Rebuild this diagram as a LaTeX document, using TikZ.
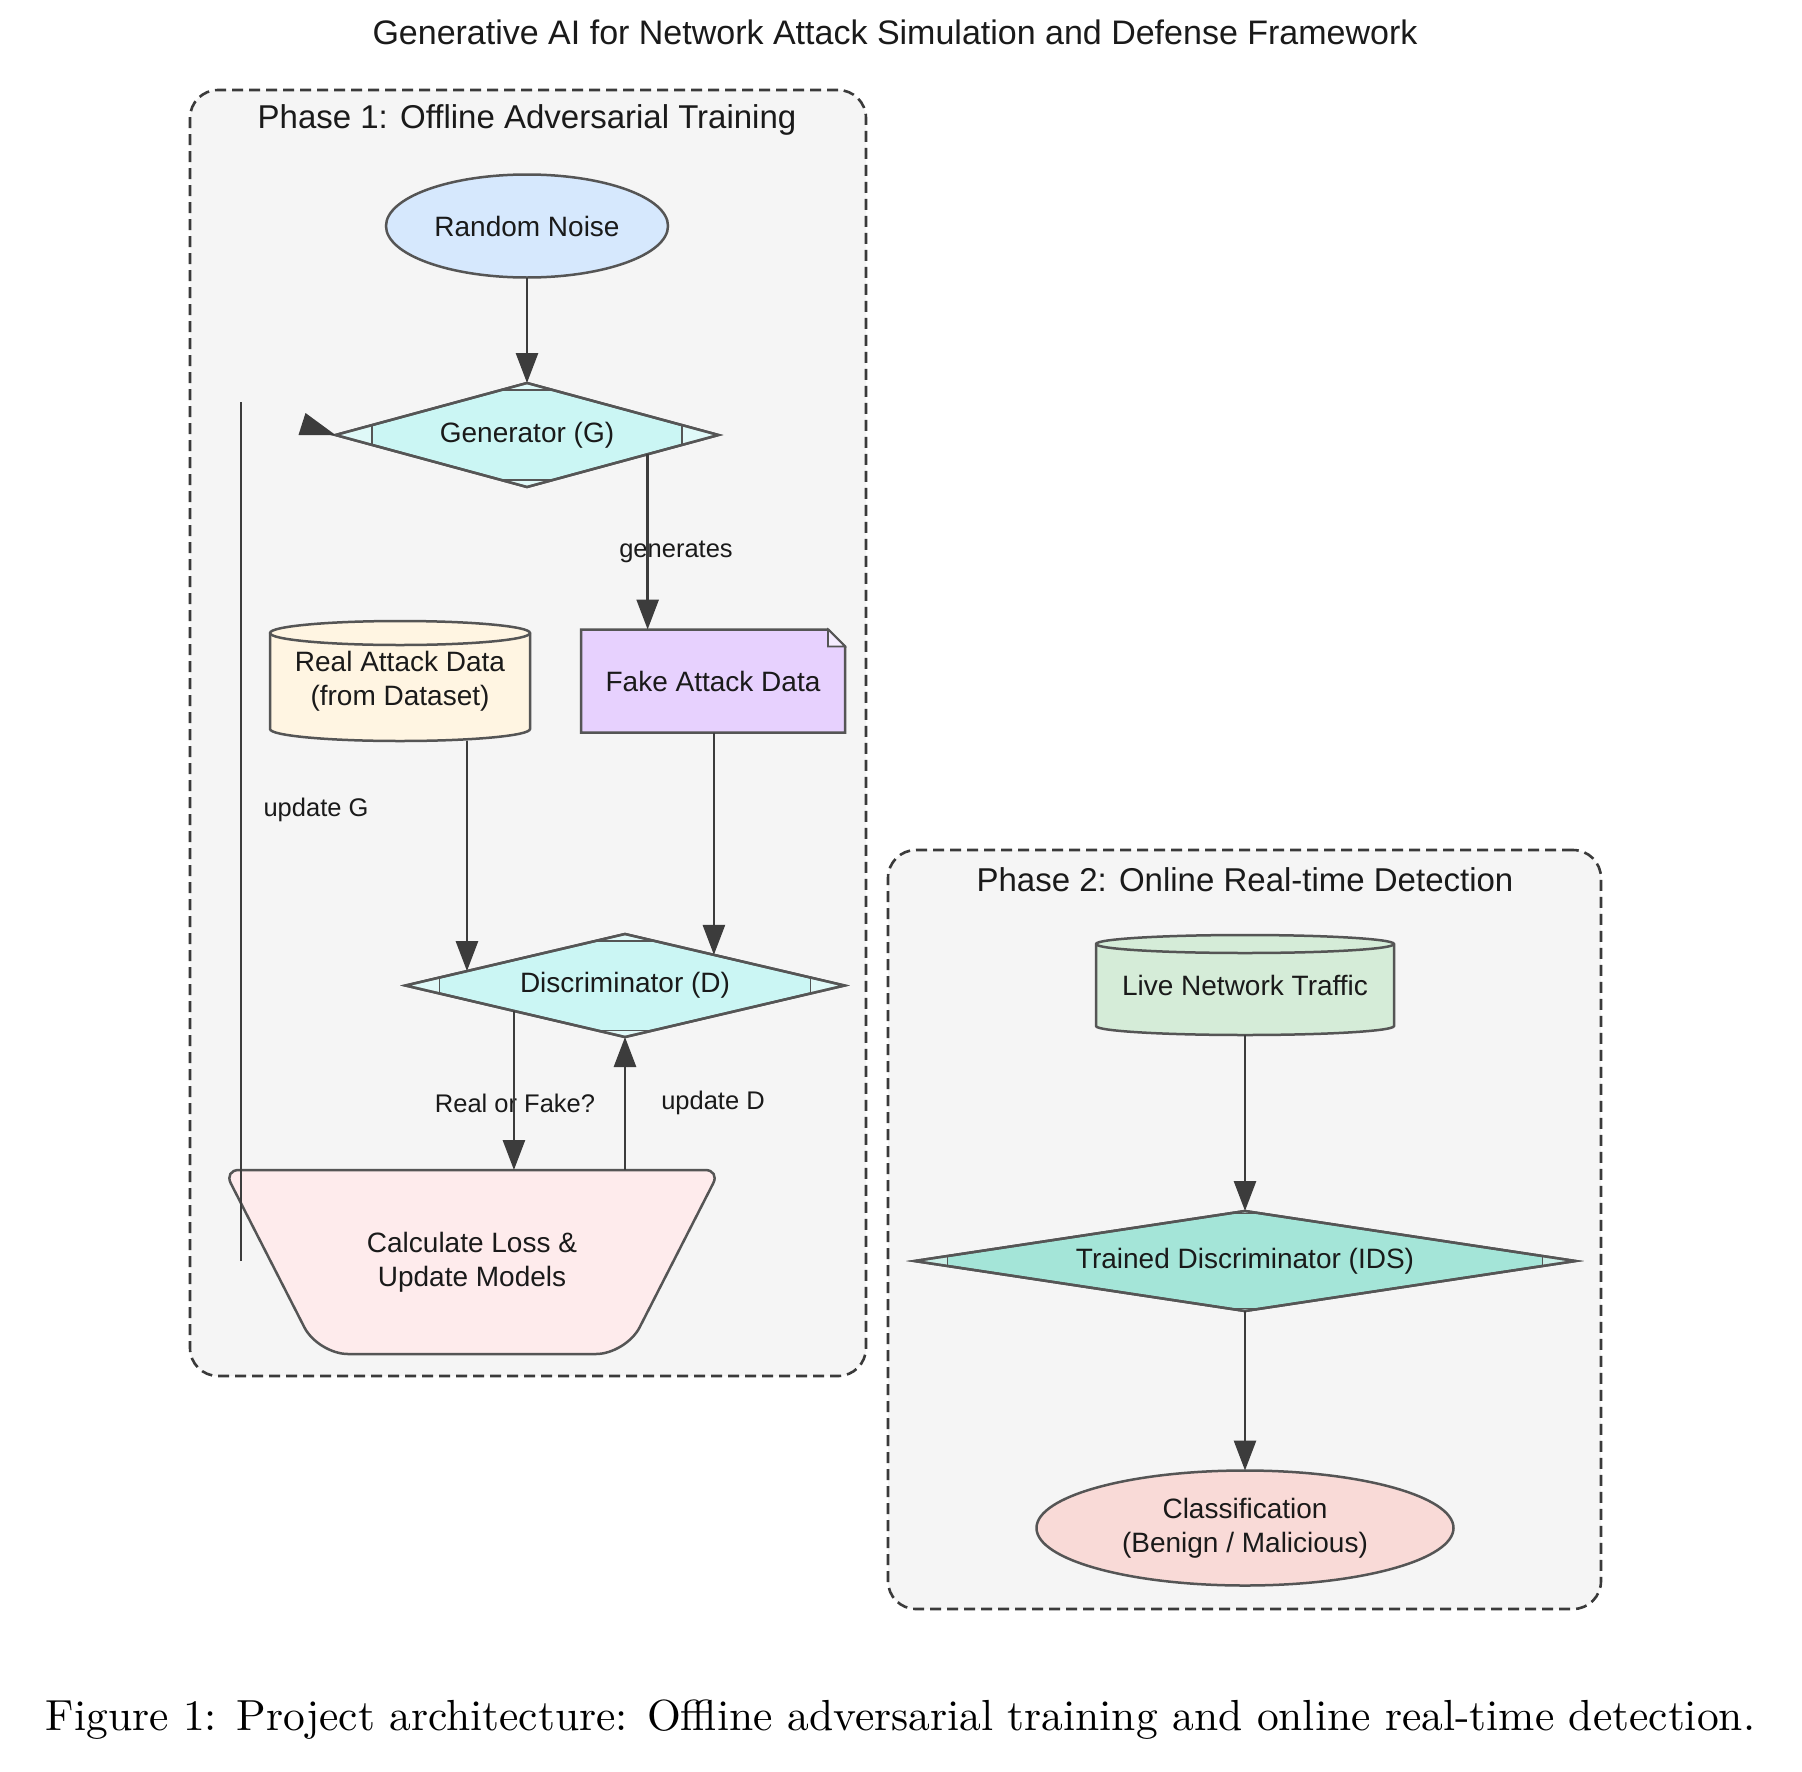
\documentclass[tikz,border=0pt]{standalone}
\usepackage{fontspec}
\usepackage{graphicx}
\usetikzlibrary{shapes.geometric,arrows.meta,calc}
\newfontfamily\arialf{Liberation Sans}
\definecolor{phasefill}{HTML}{F5F5F5}
\definecolor{phaseline}{HTML}{3A3A3A}
\definecolor{edgecol}{HTML}{3C3C3C}
\definecolor{bordercol}{HTML}{555555}
\definecolor{txtcol}{HTML}{1A1A1A}
\definecolor{noisefill}{HTML}{D6E8FD}
\definecolor{genfill}{HTML}{CBF6F4}
\definecolor{realfill}{HTML}{FFF5E2}
\definecolor{fakefill}{HTML}{E7D1FE}
\definecolor{lossfill}{HTML}{FEEBEC}
\definecolor{livefill}{HTML}{D5ECD8}
\definecolor{idsfill}{HTML}{A4E5D8}
\definecolor{classfill}{HTML}{F9DAD7}
\pgfdeclarelayer{back}
\pgfdeclarelayer{shapes}
\pgfsetlayers{back,shapes,main}
\newcommand\cylshape[4]{%
 \begin{pgfonlayer}{shapes}
 \draw[draw=bordercol, line width=2.5pt, fill=#2] ($(#1.north west)+(0,#4)$) -- ($(#1.south west)+(0,-#4)$) arc[start angle=180, end angle=0, x radius=#3, y radius=#4] -- ($(#1.north east)+(0,#4)$) arc[start angle=0, end angle=-180, x radius=#3, y radius=#4] -- cycle;
 \draw[draw=bordercol, line width=2.5pt] ($(#1.north west)+(0,#4)$) arc[start angle=180, end angle=0, x radius=#3, y radius=#4];
 \end{pgfonlayer}}
\newcommand\noteshape[3]{%
 \begin{pgfonlayer}{shapes}
 \draw[draw=bordercol, line width=2.5pt, fill=#2, line join=miter] (#1.north west) -- ($(#1.north east)+(-#3,0)$) -- ($(#1.north east)+(0,#3)$) -- (#1.south east) -- (#1.south west) -- cycle;
 \draw[draw=bordercol, line width=1.6pt, fill=#2!40!white] ($(#1.north east)+(-#3,0)$) -- ($(#1.north east)+(-#3,#3)$) -- ($(#1.north east)+(0,#3)$) -- cycle;
 \end{pgfonlayer}}
\newcommand\trapshape[3]{%
 \begin{pgfonlayer}{shapes}
 \draw[draw=bordercol, line width=2.5pt, fill=#2] (#1.north) [rounded corners=15pt] -- (#1.north east) [rounded corners=30pt] -- ($(#1.south east)+(-#3,0)$) -- ($(#1.south west)+(#3,0)$) [rounded corners=15pt] -- (#1.north west) -- cycle;
 \end{pgfonlayer}}
\newcommand\dtips[3]{%
 \fill[tipfill] (#1.west) -- ($(#1.west)!#2!(#1.north)$) -- ($(#1.west)!#2!(#1.south)$) -- cycle;
 \fill[tipfill] (#1.east) -- ($(#1.east)!#2!(#1.north)$) -- ($(#1.east)!#2!(#1.south)$) -- cycle;
 \fill[tipfill] (#1.north) -- ($(#1.north)!#3!(#1.west)$) -- ($(#1.north)!#3!(#1.east)$) -- cycle;
 \fill[tipfill] (#1.south) -- ($(#1.south)!#3!(#1.west)$) -- ($(#1.south)!#3!(#1.east)$) -- cycle;
 \draw[tipline] ($(#1.west)!#2!(#1.north)$) -- ($(#1.west)!#2!(#1.south)$);
 \draw[tipline] ($(#1.east)!#2!(#1.north)$) -- ($(#1.east)!#2!(#1.south)$);
 \draw[tipline] ($(#1.north)!#3!(#1.west)$) -- ($(#1.north)!#3!(#1.east)$);
 \draw[tipline] ($(#1.south)!#3!(#1.west)$) -- ($(#1.south)!#3!(#1.east)$);
 \draw[draw=bordercol, line width=2.5pt, line join=miter] (#1.west) -- (#1.north) -- (#1.east) -- (#1.south) -- cycle;
}
\begin{document}
\begin{tikzpicture}[x=1pt,y=-1pt,
  phasebox/.style={draw=phaseline, line width=2.6pt, dash pattern=on 11pt off 6pt, fill=phasefill, rounded corners=28pt, inner sep=0pt, outer sep=0pt},
  phaselabel/.style={font=\arialf\fontsize{33}{40}\selectfont, text=txtcol, inner sep=0pt},
  txtnode/.style={draw=bordercol, line width=2.5pt, outer sep=0pt, inner sep=0pt, align=center, font=\arialf\fontsize{28}{34.5}\selectfont, text=txtcol},
  bare/.style={outer sep=0pt, inner sep=0pt, align=center, font=\arialf\fontsize{28}{34.5}\selectfont, text=txtcol},
  elabel/.style={font=\arialf\fontsize{25.5}{30}\selectfont, text=txtcol, inner sep=0pt},
  arr/.style={draw=edgecol, line width=2.8pt, -{Triangle[length=30pt,width=22pt]}},
  conn/.style={draw=edgecol, line width=2.8pt},
  tipfill/.style={fill=white, fill opacity=0.4},
  tipline/.style={draw=bordercol, line width=1.6pt},
]
\useasboundingbox (0,0) rectangle (1802,1772);
\begin{pgfonlayer}{back}
\fill[white] (0,0) rectangle (1802,1772);
\node[phasebox, minimum width=676, minimum height=1286] (p1) at (528,733) {};
\node[phasebox, minimum width=713, minimum height=759] (p2) at (1244.5,1229.5) {};
\end{pgfonlayer}

\node[font=\arialf\fontsize{34}{40}\selectfont, text=txtcol, inner sep=0pt] (title) at (895,32) {Generative AI for Network Attack Simulation and Defense Framework};
\node[phaselabel] (p1l) at (527,120) {Phase 1: Offline Adversarial Training};
\node[phaselabel] (p2l) at (1245,880) {Phase 2: Online Real-time Detection};

% Phase 1 nodes
\node[txtnode, ellipse, fill=noisefill, minimum width=282, minimum height=103] (noise) at (527,226) {Random Noise};
\node[txtnode, diamond, aspect=4, fill=genfill, minimum width=383, minimum height=104] (gen) at (527,435) {Generator (G)};
\dtips{gen}{0.19}{0.13}
\node[bare, minimum width=260, minimum height=120] (real) at (400,681) {Real Attack Data\\(from Dataset)};
\cylshape{real}{realfill}{130}{12}
\node[bare, minimum width=264, minimum height=103] (fake) at (713,681) {Fake Attack Data};
\noteshape{fake}{fakefill}{17}
\node[txtnode, diamond, aspect=4, fill=genfill, minimum width=439, minimum height=103] (disc) at (625,985.5) {Discriminator (D)};
\dtips{disc}{0.155}{0.13}
\node[bare, minimum width=496, minimum height=184] (loss) at (472,1262) {Calculate Loss \&\\Update Models};
\trapshape{loss}{lossfill}{94}

% Phase 2 nodes
\node[bare, minimum width=298, minimum height=100] (live) at (1245,985) {Live Network Traffic};
\cylshape{live}{livefill}{149}{9}
\node[txtnode, diamond, aspect=6, fill=idsfill, minimum width=661, minimum height=100] (ids) at (1245,1261) {Trained Discriminator (IDS)};
\dtips{ids}{0.1}{0.05}
\node[txtnode, ellipse, fill=classfill, minimum width=417, minimum height=115] (class) at (1245,1528) {Classification\\(Benign / Malicious)};

% edge labels
\node[elabel] (lgen) at (676,552) {generates};
\node[elabel] (lrf) at (515,1103) {Real or Fake?};
\node[elabel] (lud) at (713,1103) {update D};
\node[elabel] (lug) at (316,810) {update G};

% connectors
\draw[arr] (noise.south) -- (gen.north);
\coordinate (gA) at ($(gen.east)!0.37!(gen.south)$);
\draw[arr] (gA) -- (gA |- fake.north);
\coordinate (dA) at ($(disc.west)!0.28!(disc.north)$);
\draw[arr] (dA |- real.south) -- (dA);
\coordinate (dB) at ($(disc.north)!0.405!(disc.east)$);
\draw[arr] (dB |- fake.south) -- (dB);
\coordinate (dC) at ($(disc.west)!0.494!(disc.south)$);
\draw[arr] (dC) -- (dC |- loss.north);
\draw[arr] (loss.north -| disc.south) -- (disc.south);
\draw[arr] (live.south) -- (ids.north);
\draw[arr] (ids.south) -- (class.north);
% update G (broken loop in the original)
\coordinate (ugTop) at (241,402);
\coordinate (ugBot) at (241,1261);
\draw[conn] (ugBot) -- (ugTop);
\fill[edgecol] (gen.west) -- ($(gen.west)+(-37,0)$) -- ($(gen.west)+(-30,-22)$) -- cycle;

% caption
\node[inner sep=0pt] (cap) at (900.5,1720) {\resizebox{1709pt}{!}{Figure 1: Project architecture: Offline adversarial training and online real-time detection.}};
\end{tikzpicture}
\end{document}
